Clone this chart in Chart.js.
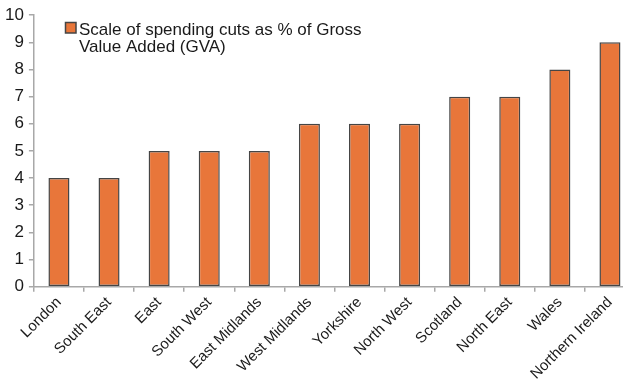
<title>Spending cuts by region</title>
<script src=https://cdn.jsdelivr.net/npm/chart.js@4/dist/chart.umd.min.js></script>
<style>
html,body{margin:0;padding:0;overflow:hidden;background:#fff}
#myChart{position:absolute;left:0;top:0}
</style>
<canvas id="myChart" width="635" height="385"></canvas>
<script>
var regions = ['London','South East','East','South West','East Midlands','West Midlands',
  'Yorkshire','North West','Scotland','North East','Wales','Northern Ireland'];
var cuts = [4,4,5,5,5,6,6,6,7,7,8,9];
var seriesLabel = ['Scale of spending cuts as % of Gross','Value Added (GVA)'];
var yTicks = [0,1,2,3,4,5,6,7,8,9,10];

var fontFamily = '"Liberation Sans", Arial, sans-serif';

// legend drawn by hand so the label can go over two lines
var boxLegend = {
  id: 'boxLegend',
  afterDraw: function(chart){
    var ctx = chart.ctx;
    var ds = chart.data.datasets[0];
    ctx.save();
    ctx.fillStyle = ds.backgroundColor;
    ctx.strokeStyle = ds.borderColor;
    ctx.lineWidth = 1.5;
    ctx.fillRect(65.5, 22.5, 10.5, 10.5);
    ctx.strokeRect(65.5, 22.5, 10.5, 10.5);
    ctx.fillStyle = '#1a1a1a';
    ctx.font = '17px ' + fontFamily;
    ctx.textBaseline = 'alphabetic';
    ds.label.forEach(function(line, i){
      ctx.fillText(line, 79, 35 + i*17);
    });
    ctx.restore();
  }
};

new Chart(document.getElementById('myChart'), {
  type: 'bar',
  data: {
    labels: regions,
    datasets: [{
      label: seriesLabel,
      data: cuts,
      backgroundColor: '#e8763a',
      borderColor: '#454545',
      borderWidth: 1.5,
      borderSkipped: false,
      categoryPercentage: 1,
      barPercentage: 0.42
    }]
  },
  options: {
    responsive: false,
    animation: false,
    layout: {padding: {top: 15, right: 0, left: 0, bottom: 0}},
    plugins: {legend: {display: false}, tooltip: {enabled: false}},
    scales: {
      x: {
        grid: {drawOnChartArea: false, color: '#a8a8a8', tickLength: 5, lineWidth: 1.5},
        border: {color: '#a8a8a8', width: 1.5},
        ticks: {color: '#1a1a1a', font: {family: fontFamily, size: 15}, maxRotation: 45, minRotation: 45, padding: 2}
      },
      y: {
        min: 0, max: 10,
        afterBuildTicks: function(axis){ axis.ticks = yTicks.map(function(v){ return {value: v}; }); },
        grid: {drawOnChartArea: false, color: '#a8a8a8', tickLength: 5, lineWidth: 1.5},
        border: {color: '#a8a8a8', width: 1.5},
        ticks: {color: '#1a1a1a', font: {family: fontFamily, size: 17}, padding: 5}
      }
    }
  },
  plugins: [boxLegend]
});
</script>
